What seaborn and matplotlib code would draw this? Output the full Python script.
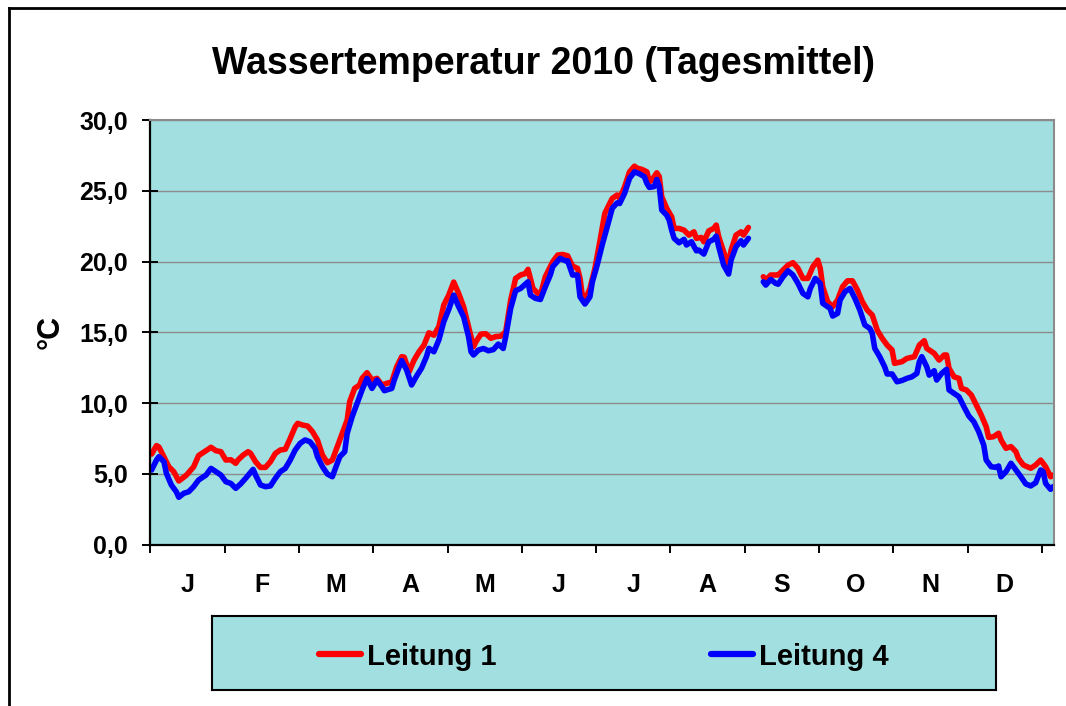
import numpy as np
import pandas as pd
import matplotlib
matplotlib.use("Agg")
import matplotlib.pyplot as plt
from matplotlib.lines import Line2D
import seaborn as sns

# ---------------- data ----------------
title = "Wassertemperatur 2010 (Tagesmittel)"
ylabel = "°C"
series_names = ["Leitung 1", "Leitung 4"]
month_labels = ["J", "F", "M", "A", "M", "J", "J", "A", "S", "O", "N", "D"]
y_ticks = [0, 5, 10, 15, 20, 25, 30]

# day of year (0-based) and daily mean temperature, Leitung 1
days_l1 = [0, 2, 3, 5, 7, 9, 11, 14, 17, 19, 22, 24, 26, 28, 30, 32, 34, 35, 37, 39,
           40, 42, 44, 46, 48, 50, 52, 54, 56, 58, 59, 61, 63, 65, 67, 69, 71, 73, 75, 77,
           79, 80, 82, 84, 85, 87, 89, 91, 93, 95, 97, 99, 101, 102, 104, 106, 108, 110, 112, 114,
           116, 118, 120, 122, 124, 126, 128, 130, 131, 133, 135, 137, 139, 141, 143, 145, 147, 149, 151, 152,
           154, 156, 157, 159, 162, 164, 166, 168, 170, 172, 173, 174, 175, 177, 179, 181, 183, 186, 188, 189,
           191, 193, 195, 196, 198, 200, 201, 202, 204, 205, 206, 208, 210, 211, 213, 215, 217, 219, 220, 222,
           223, 225, 227, 228, 229, 231, 233, 234, 236, 238, 239, 241, 244, 247, 248, 250, 252, 253, 255, 257,
           259, 261, 263, 265, 267, 269, 270, 271, 273, 275, 277, 279, 281, 283, 285, 287, 289, 291, 293, 295,
           297, 299, 300, 303, 305, 308, 310, 312, 313, 316, 318, 320, 321, 322, 324, 326, 327, 329, 331, 333,
           335, 337, 338, 340, 342, 343, 345, 347, 349, 350, 352, 355, 357, 359, 361, 363, 364]
temp_l1 = [6.4, 7.0, 6.9, 6.2, 5.5, 5.15, 4.5, 4.9, 5.5, 6.3, 6.64, 6.88, 6.64, 6.57, 5.98, 6.0, 5.75, 6.0, 6.33, 6.57,
           6.45, 5.86, 5.46, 5.46, 5.86, 6.45, 6.69, 6.74, 7.51, 8.33, 8.57, 8.45, 8.38, 7.98, 7.39, 6.33, 5.79, 5.98, 6.92, 7.87,
           8.81, 10.1, 11.04, 11.28, 11.75, 12.15, 11.63, 11.75, 11.28, 11.4, 11.5, 12.57, 13.28, 13.25, 12.22, 13.04, 13.63, 14.1, 14.97, 14.8,
           15.4, 16.93, 17.63, 18.55, 17.75, 16.81, 15.4, 13.98, 14.34, 14.88, 14.9, 14.58, 14.7, 14.73, 15.04, 17.28, 18.81, 19.05, 19.16, 19.45,
           18.1, 17.75, 17.63, 18.93, 19.99, 20.46, 20.5, 20.41, 19.68, 19.52, 18.81, 17.51, 17.28, 18.1, 19.5, 21.4, 23.4, 24.46, 24.7, 24.46,
           25.28, 26.34, 26.74, 26.6, 26.51, 26.34, 25.64, 25.75, 26.27, 26.0, 24.58, 23.76, 23.16, 22.34, 22.34, 22.22, 21.87, 22.1, 21.64, 21.7,
           21.4, 22.17, 22.34, 22.58, 21.75, 20.69, 19.75, 20.81, 21.87, 22.1, 21.87, 22.41, np.nan, 18.93, 18.69, 19.05, 19.05, 19.05, 19.4, 19.75,
           19.92, 19.52, 18.81, 18.81, 19.63, 20.1, 19.52, 18.22, 17.16, 16.81, 17.28, 18.22, 18.64, 18.64, 17.99, 17.16, 16.57, 16.22, 15.16, 14.58,
           14.1, 13.75, 12.81, 12.93, 13.16, 13.28, 14.1, 14.41, 13.87, 13.52, 13.04, 13.4, 13.4, 12.46, 11.86, 11.75, 11.04, 10.93, 10.57, 9.87,
           9.16, 8.33, 7.58, 7.63, 7.87, 7.39, 6.81, 6.93, 6.57, 6.1, 5.63, 5.4, 5.63, 5.98, 5.51, 4.8, 4.92]

# day of year (0-based) and daily mean temperature, Leitung 4
days_l4 = [0, 2, 3, 5, 6, 8, 10, 11, 13, 15, 17, 19, 22, 24, 26, 28, 30, 32, 34, 36,
           38, 41, 42, 44, 46, 48, 50, 52, 54, 56, 58, 60, 62, 64, 66, 67, 69, 71, 73, 74,
           76, 78, 79, 81, 83, 85, 87, 89, 91, 93, 94, 97, 98, 100, 101, 103, 105, 107, 109, 111,
           112, 114, 116, 118, 120, 122, 124, 126, 128, 129, 130, 132, 134, 136, 138, 140, 142, 143, 145, 147,
           149, 151, 152, 153, 155, 157, 159, 161, 162, 165, 167, 168, 170, 172, 173, 175, 177, 178, 180, 182,
           184, 186, 188, 189, 191, 193, 195, 197, 199, 200, 201, 203, 204, 205, 206, 208, 209, 210, 211, 213,
           215, 216, 218, 220, 221, 223, 225, 227, 228, 229, 231, 233, 234, 236, 238, 239, 241, 244, 247, 248,
           250, 252, 253, 255, 257, 259, 261, 263, 265, 266, 268, 270, 271, 272, 274, 275, 277, 278, 280, 282,
           284, 286, 288, 290, 291, 292, 294, 296, 297, 299, 301, 303, 305, 307, 309, 310, 311, 313, 314, 316,
           317, 319, 321, 322, 324, 326, 328, 330, 332, 334, 336, 337, 339, 341, 342, 343, 345, 347, 349, 351,
           353, 355, 357, 359, 360, 361, 363, 364]
temp_l4 = [5.27, 5.98, 6.22, 5.86, 5.04, 4.22, 3.74, 3.35, 3.63, 3.74, 4.1, 4.57, 4.92, 5.39, 5.16, 4.92, 4.45, 4.33, 3.98, 4.3,
           4.69, 5.32, 4.92, 4.22, 4.1, 4.15, 4.69, 5.16, 5.39, 5.98, 6.69, 7.16, 7.4, 7.27, 6.81, 6.21, 5.51, 4.99, 4.8, 5.28,
           6.21, 6.57, 7.87, 9.04, 9.99, 10.93, 11.75, 11.04, 11.63, 11.16, 10.88, 11.04, 11.63, 12.57, 13.0, 12.34, 11.28, 11.91, 12.46, 13.28,
           13.87, 13.63, 14.46, 15.75, 16.62, 17.63, 16.81, 16.1, 14.69, 13.63, 13.4, 13.75, 13.86, 13.7, 13.78, 14.17, 13.86, 14.7, 16.69, 17.94,
           18.1, 18.41, 18.57, 17.63, 17.4, 17.32, 18.22, 19.05, 19.64, 20.23, 20.06, 20.06, 19.05, 19.05, 17.51, 17.0, 17.51, 18.57, 19.8, 21.2,
           22.46, 23.76, 24.15, 24.1, 24.82, 25.88, 26.34, 26.2, 25.99, 25.52, 25.24, 25.3, 25.8, 25.3, 23.64, 23.28, 22.93, 22.22, 21.64, 21.33,
           21.57, 21.17, 21.4, 20.76, 20.81, 20.53, 21.4, 21.57, 21.8, 21.05, 19.75, 19.12, 20.11, 21.05, 21.47, 21.17, 21.64, np.nan, 18.57, 18.34,
           18.74, 18.46, 18.4, 18.93, 19.35, 19.05, 18.46, 17.75, 17.51, 18.1, 18.81, 18.46, 17.05, 16.93, 16.69, 16.15, 16.34, 17.28, 17.87, 18.1,
           17.4, 16.57, 15.52, 15.28, 14.93, 13.87, 13.28, 12.57, 12.06, 12.06, 11.51, 11.6, 11.75, 11.86, 12.1, 12.92, 13.28, 12.57, 11.98, 12.29,
           11.63, 12.1, 12.39, 10.93, 10.69, 10.45, 9.75, 9.09, 8.69, 7.98, 7.04, 5.98, 5.51, 5.46, 5.56, 4.8, 5.16, 5.75, 5.28, 4.8,
           4.29, 4.15, 4.38, 5.28, 5.16, 4.33, 3.91, 4.1]

colors = ["#FF0000", "#0000FF"]
bg_color = "#A1DFE0"

# ---------------- build table ----------------
def to_frame(days, temps, name):
    df = pd.DataFrame({"day": np.asarray(days, float) + 0.5,
                       "temp": np.asarray(temps, float),
                       "series": name})
    df["segment"] = df["temp"].isna().cumsum()
    return df.dropna()

data = pd.concat([to_frame(days_l1, temp_l1, series_names[0]),
                  to_frame(days_l4, temp_l4, series_names[1])], ignore_index=True)

# ---------------- figure ----------------
plt.rcParams["font.family"] = ["Liberation Sans", "DejaVu Sans"]
plt.rcParams["font.weight"] = "bold"

W, H = 1066, 706
fig = plt.figure(figsize=(W / 100, H / 100), dpi=100)
fig.patch.set_facecolor("white")

def fx(px):
    return px / W

def fy(py):
    return 1 - py / H

ax = fig.add_axes([fx(150.3), fy(544.7), fx(1054.3) - fx(150.3), fy(120) - fy(544.7)])
ax.set_facecolor(bg_color)

sns.lineplot(data=data, x="day", y="temp", hue="series", units="segment",
             estimator=None, sort=False, palette=colors, linewidth=4.0,
             legend=False, ax=ax)
for ln in ax.lines:
    ln.set_solid_capstyle("round")
    ln.set_solid_joinstyle("round")

ax.set_xlim(0, 365)
ax.set_ylim(0, 30)
ax.set_yticks(y_ticks)
ax.set_yticklabels([f"{v:.1f}".replace(".", ",") for v in y_ticks])
ax.set_xticks(np.arange(0, 361, 30))
ax.set_xticklabels([])
ax.set_xticks(np.arange(15, 360, 30), minor=True)
ax.set_xticklabels(month_labels, minor=True)

ax.tick_params(axis="y", direction="inout", length=12, width=1.4, labelsize=18,
               pad=10, colors="black")
ax.tick_params(axis="x", which="major", direction="out", length=6, width=1.4)
ax.tick_params(axis="x", which="minor", length=0, labelsize=18, pad=20.5)
for t in ax.get_xticklabels(minor=True) + ax.get_yticklabels():
    t.set_fontweight("bold")

ax.yaxis.grid(True, color="#8C8C8C", linewidth=1.0)
ax.set_axisbelow(True)

for side in ("left", "bottom"):
    ax.spines[side].set_color("black")
    ax.spines[side].set_linewidth(1.6)
for side in ("top", "right"):
    ax.spines[side].set_color("#8C8C8C")
    ax.spines[side].set_linewidth(1.5)

ax.set_xlabel("")
ax.set_ylabel(ylabel, fontsize=22, fontweight="bold")
ax.yaxis.set_label_coords(-0.094, 0.5)

fig.text(fx(543), fy(64), title, ha="center", va="center",
         fontsize=27, fontweight="bold")

# legend box
lax = fig.add_axes([fx(212), fy(690), fx(996) - fx(212), fy(616) - fy(690)])
lax.set_facecolor(bg_color)
lax.set_xticks([])
lax.set_yticks([])
for s in lax.spines.values():
    s.set_color("black")
    s.set_linewidth(1.5)
handles = [Line2D([], [], color=c, linewidth=4.5, solid_capstyle="round") for c in colors]
fs = 21
em = fs * 100 / 72
lax.legend(handles, series_names, loc="center", bbox_to_anchor=(0.5, 0.45),
           ncol=2, frameon=False,
           prop={"size": fs, "weight": "bold"},
           handlelength=42 / em, handletextpad=6 / em, columnspacing=215 / em,
           borderaxespad=0, borderpad=0)

# outer chart border
fig.add_artist(Line2D([fx(9), fx(9)], [0, fy(8)], color="black", linewidth=2))
fig.add_artist(Line2D([fx(9), 1], [fy(8), fy(8)], color="black", linewidth=2))

fig.savefig("out.png", dpi=100)
